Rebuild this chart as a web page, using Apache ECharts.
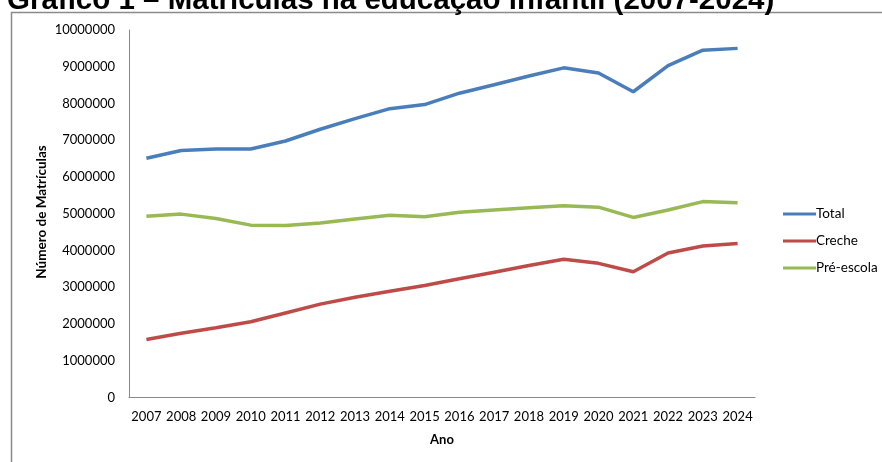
<!DOCTYPE html>
<html>
<head>
<meta charset="utf-8">
<script src="https://cdn.jsdelivr.net/npm/echarts@6/dist/echarts.min.js"></script>
<style>
  html, body { margin: 0; padding: 0; background: #fff; }
  #chart { width: 882px; height: 462px; }
</style>
</head>
<body>
<div id="chart"></div>
<script>
const years = ["2007","2008","2009","2010","2011","2012","2013","2014","2015","2016","2017","2018","2019","2020","2021","2022","2023","2024"];
const total = [6510000,6720000,6760000,6760000,6980000,7300000,7590000,7860000,7970000,8280000,8510000,8750000,8970000,8830000,8320000,9030000,9450000,9500000];
const creche = [1580000,1750000,1900000,2060000,2300000,2540000,2730000,2890000,3050000,3230000,3410000,3590000,3760000,3650000,3420000,3930000,4120000,4190000];
const preEscola = [4930000,4990000,4870000,4690000,4680000,4750000,4860000,4960000,4920000,5040000,5100000,5160000,5220000,5180000,4900000,5100000,5330000,5300000];

const FONT = "Lato, 'Open Sans', sans-serif";
const chart = echarts.init(document.getElementById("chart"), null, { renderer: "canvas" });

const seriesDefs = [
  { name: "Total", data: total, color: "#4A7EBB" },
  { name: "Creche", data: creche, color: "#BE4B48" },
  { name: "Pré-escola", data: preEscola, color: "#98B954" }
];

chart.setOption({
  animation: false,
  backgroundColor: "#fff",
  title: {
    text: "Gráfico 1 – Matrículas na educação infantil (2007-2024)",
    left: 2,
    top: -19,
    textStyle: { fontFamily: "'Liberation Sans', Arial, sans-serif", fontSize: 29.5, fontWeight: "bold", color: "#000" }
  },
  graphic: [
    {
      type: "rect",
      shape: { x: 11.5, y: 12.5, width: 1000, height: 1000 },
      style: { fill: "none", stroke: "#8a8a8a", lineWidth: 1.5 },
      silent: true
    },
    {
      // y axis name, placed by hand (v6 pushes axis names past the labels)
      type: "text",
      x: 42,
      y: 212,
      rotation: Math.PI / 2,
      style: {
        text: "Número de Matrículas",
        fontFamily: FONT,
        fontSize: 13.5,
        fontWeight: "bold",
        fill: "#000",
        align: "center",
        verticalAlign: "middle"
      },
      silent: true
    }
  ],
  legend: {
    orient: "vertical",
    left: 778,
    top: 202,
    itemWidth: 33,
    itemHeight: 3,
    itemGap: 13,
    icon: "rect",
    textStyle: { fontFamily: FONT, fontSize: 13.5, color: "#000", padding: [0, 0, 0, -5] },
    data: seriesDefs.map((s) => s.name)
  },
  grid: { left: 129, right: 127, top: 30, bottom: 64.5 },
  xAxis: {
    type: "category",
    data: years,
    boundaryGap: true,
    name: "Ano",
    nameLocation: "middle",
    nameGap: 36,
    nameTextStyle: { fontFamily: FONT, fontSize: 13, fontWeight: "bold", color: "#000" },
    axisLine: { lineStyle: { color: "#888", width: 1 } },
    axisTick: { show: false },
    axisLabel: { interval: 0, fontFamily: FONT, fontSize: 13, color: "#000", margin: 13 }
  },
  yAxis: {
    type: "value",
    min: 0,
    max: 10000000,
    interval: 1000000,
    axisLine: { show: true, lineStyle: { color: "#888", width: 1 } },
    axisTick: { show: false },
    splitLine: { show: false },
    axisLabel: { fontFamily: FONT, fontSize: 13, color: "#000", margin: 14, formatter: (v) => String(v) }
  },
  series: seriesDefs.map((s) => ({
    name: s.name,
    type: "line",
    data: s.data,
    showSymbol: false,
    symbol: "none",
    color: s.color,
    lineStyle: { width: 3.5, color: s.color }
  }))
});
</script>
</body>
</html>
